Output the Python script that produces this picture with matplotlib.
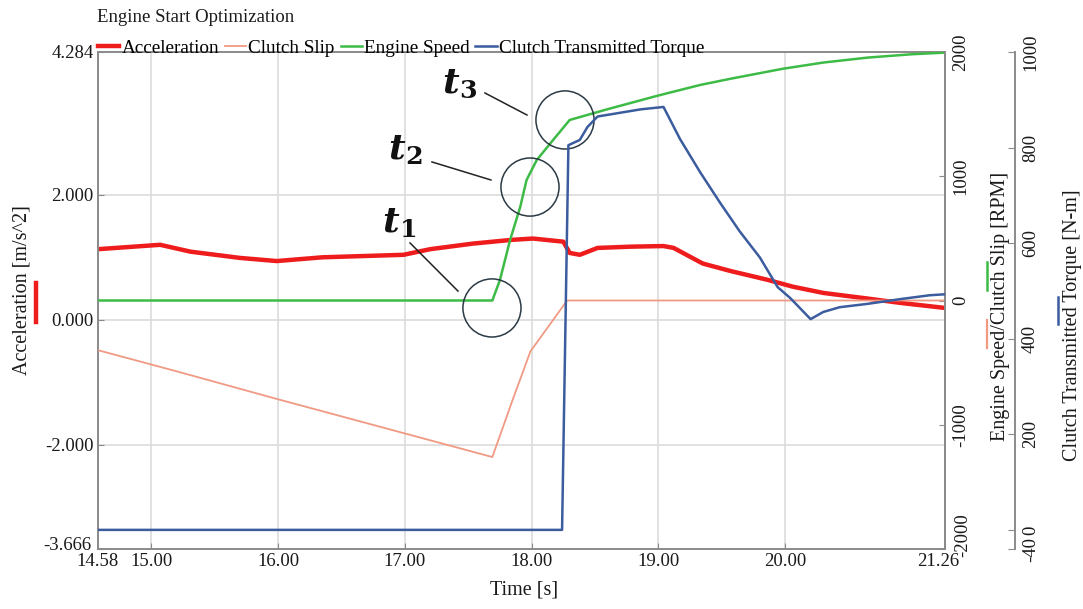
import matplotlib
matplotlib.use("Agg")
import matplotlib.pyplot as plt
from matplotlib.lines import Line2D
from matplotlib.transforms import ScaledTranslation

plt.rcParams["font.family"] = ["Liberation Serif", "DejaVu Serif"]
plt.rcParams["mathtext.fontset"] = "dejavuserif"

# ---- data -------------------------------------------------------------
accel_t = [14.58, 15.00, 15.07, 15.31, 15.70, 15.99, 16.35, 16.99, 17.20, 17.54,
           17.85, 18.01, 18.25, 18.30, 18.38, 18.52, 18.78, 19.04, 19.12, 19.23,
           19.35, 19.57, 19.86, 20.06, 20.30, 20.65, 20.91, 21.26]
accel = [1.13, 1.19, 1.20, 1.09, 0.99, 0.94, 1.00, 1.04, 1.13, 1.22,
         1.28, 1.30, 1.25, 1.07, 1.04, 1.15, 1.17, 1.18, 1.15, 1.03,
         0.90, 0.78, 0.64, 0.53, 0.43, 0.34, 0.27, 0.19]

slip_t = [14.58, 15.00, 15.20, 16.00, 17.00, 17.69, 17.85, 17.99, 18.28, 21.26]
slip = [-400, -515, -570, -795, -1070, -1260, -800, -410, 0, 0]

speed_t = [14.58, 17.69, 17.75, 17.83, 17.91, 17.96, 18.04, 18.15, 18.30, 18.60,
           19.00, 19.33, 19.57, 19.98, 20.30, 20.65, 21.00, 21.26]
speed = [0, 0, 165, 487, 753, 970, 1130, 1268, 1453, 1540,
         1650, 1735, 1785, 1865, 1915, 1955, 1982, 1995]

torque_t = [14.58, 18.24, 18.29, 18.38, 18.44, 18.52, 18.86, 19.04, 19.17, 19.33,
            19.49, 19.64, 19.80, 19.94, 20.04, 20.20, 20.30, 20.43, 20.65, 20.91,
            21.14, 21.26]
torque = [0, 0, 805, 816, 843, 865, 880, 885, 818, 748,
          683, 625, 570, 508, 485, 441, 456, 466, 473, 483,
          491, 493]

x_ticks = [14.58, 15, 16, 17, 18, 19, 20, 21.26]
x_labels = ["14.58", "15.00", "16.00", "17.00", "18.00", "19.00", "20.00", "21.26"]
acc_ticks = [-3.666, -2, 0, 2, 4.284]
acc_labels = ["-3.666", "-2.000", "0.000", "2.000", "4.284"]
rpm_ticks = [-2000, -1000, 0, 1000, 2000]
rpm_labels = ["-2000", "-1000", "0", "1000", "2000"]
tq_ticks = [-40, 0, 200, 400, 600, 800, 1000]
tq_labels = ["-40", "0", "200", "400", "600", "800", "1000"]

series_names = ["Acceleration", "Clutch Slip", "Engine Speed", "Clutch Transmitted Torque"]

# callouts: label, circle centre, label anchor, leader line (time, rpm)
callouts = [
    ("1", (17.687, -60), (16.82, 543), ((17.041, 463), (17.419, 76))),
    ("2", (17.987, 913), (16.867, 1131), ((17.214, 1115), (17.679, 970))),
    ("3", (18.263, 1453), (17.293, 1670), ((17.632, 1670), (17.963, 1493))),
]

# ---- style ------------------------------------------------------------
RED = "#ee1c1c"
SALMON = "#f09a84"
GREEN = "#3dbb47"
BLUE = "#3b5c9e"
FRAME = "#8a8a8a"
GRID = "#dcdcdc"
TXT = "#1a1a1a"

W, H = 1083, 609
fig = plt.figure(figsize=(W / 100, H / 100), dpi=100)


def fx(px):
    return px / W


def fy(py):
    return 1 - py / H


def nudge(label, dx_px, dy_px):
    label.set_transform(label.get_transform() +
                        ScaledTranslation(dx_px / 100, dy_px / 100, fig.dpi_scale_trans))


L, R, T, B = 98, 945, 52, 549
ax = fig.add_axes([fx(L), fy(B), (R - L) / W, (B - T) / H])
ax_rpm = ax.twinx()
ax_tq = ax.twinx()
ax_tq.spines["right"].set_position(("axes", (1015 - L) / (R - L)))

# acceleration axis
ax.set_xlim(14.58, 21.26)
ax.set_ylim(-3.666, 4.284)
ax.set_xticks(x_ticks)
ax.set_xticklabels(x_labels)
ax.set_yticks(acc_ticks)
ax.set_yticklabels(acc_labels)
for xv in x_ticks[1:-1]:
    ax.axvline(xv, color=GRID, lw=1.2, zorder=0)
for yv in acc_ticks[1:-1]:
    ax.axhline(yv, color=GRID, lw=1.2, zorder=0)
ax.tick_params(direction="in", length=4, color=FRAME, labelsize=13.5, pad=3,
               labelcolor=TXT)
for sp in ax.spines.values():
    sp.set_color(FRAME)
    sp.set_linewidth(1.4)

l_acc, = ax.plot(accel_t, accel, color=RED, lw=3.2, solid_joinstyle="round")

# speed / slip axis
ax_rpm.set_ylim(-2000, 2000)
ax_rpm.set_yticks(rpm_ticks)
ax_rpm.set_yticklabels(rpm_labels, rotation=90, va="center")
ax_rpm.tick_params(axis="y", direction="in", length=4, color=FRAME, labelsize=13.5,
                   pad=5, labelcolor=TXT)
for name, sp in ax_rpm.spines.items():
    sp.set_visible(name == "right")
    sp.set_color(FRAME)
    sp.set_linewidth(1.4)
l_slip, = ax_rpm.plot(slip_t, slip, color=SALMON, lw=1.3)
l_speed, = ax_rpm.plot(speed_t, speed, color=GREEN, lw=1.8)

# torque axis
ax_tq.set_ylim(-40, 1000)
ax_tq.set_yticks(tq_ticks)
ax_tq.set_yticklabels(tq_labels, rotation=90, va="center")
ax_tq.tick_params(axis="y", direction="in", length=5, color=FRAME, labelsize=13.5,
                  pad=5, labelcolor=TXT)
for name, sp in ax_tq.spines.items():
    sp.set_visible(name == "right")
    sp.set_color(FRAME)
    sp.set_linewidth(1.4)
l_tq, = ax_tq.plot(torque_t, torque, color=BLUE, lw=1.8)

# keep the corner labels from colliding with the time axis labels
nudge(ax.get_yticklabels()[0], -2, 5)
nudge(ax.get_xticklabels()[-1], -7, 0)
nudge(ax_rpm.get_yticklabels()[0], 2, 14)

# callouts around the engine start phases
for sub, centre, anchor, (p0, p1) in callouts:
    ax_rpm.scatter([centre[0]], [centre[1]], s=1750, facecolors="none",
                   edgecolors="#2b3a44", linewidths=1.1, zorder=6, clip_on=False)
    ax_rpm.plot([p0[0], p1[0]], [p0[1], p1[1]], color="#222222", lw=1.1, zorder=6)
    ax_rpm.text(anchor[0], anchor[1], r"$\mathbfit{t}_{\mathbf{%s}}$" % sub,
                fontsize=26, ha="left", va="baseline", color="#111111", zorder=7)

# legend and title
ax.legend([l_acc, l_slip, l_speed, l_tq], series_names, loc="lower left",
          bbox_to_anchor=(-0.003, 0.985), ncol=4, frameon=False, fontsize=13.8,
          handlelength=1.1, handletextpad=0.12, columnspacing=0.3,
          borderaxespad=0.05, borderpad=0.1)
fig.text(fx(97), fy(17), "Engine Start Optimization", fontsize=13.5, ha="left",
         va="center", color=TXT)

# axis titles with colour keys
fig.text(fx(524), fy(590), "Time [s]", fontsize=14.5, ha="center", va="center", color=TXT)
fig.text(fx(22), fy(290), "Acceleration [m/s^2]", fontsize=14.5, rotation=90,
         ha="center", va="center", color=TXT)
fig.text(fx(1000), fy(306), "Engine Speed/Clutch Slip [RPM]", fontsize=14.5,
         rotation=90, ha="center", va="center", color=TXT)
fig.text(fx(1072), fy(325), "Clutch Transmitted Torque [N-m]", fontsize=14.5,
         rotation=90, ha="center", va="center", color=TXT)

keys = [(36, 283, 322, RED, 3.2), (987, 262, 290, GREEN, 1.8),
        (987, 320, 348, SALMON, 1.6), (1058, 297, 324, BLUE, 1.8)]
for kx, ky0, ky1, kc, kw in keys:
    fig.add_artist(Line2D([fx(kx), fx(kx)], [fy(ky0), fy(ky1)], color=kc, lw=kw,
                          transform=fig.transFigure))

fig.savefig("out.png", dpi=100)
